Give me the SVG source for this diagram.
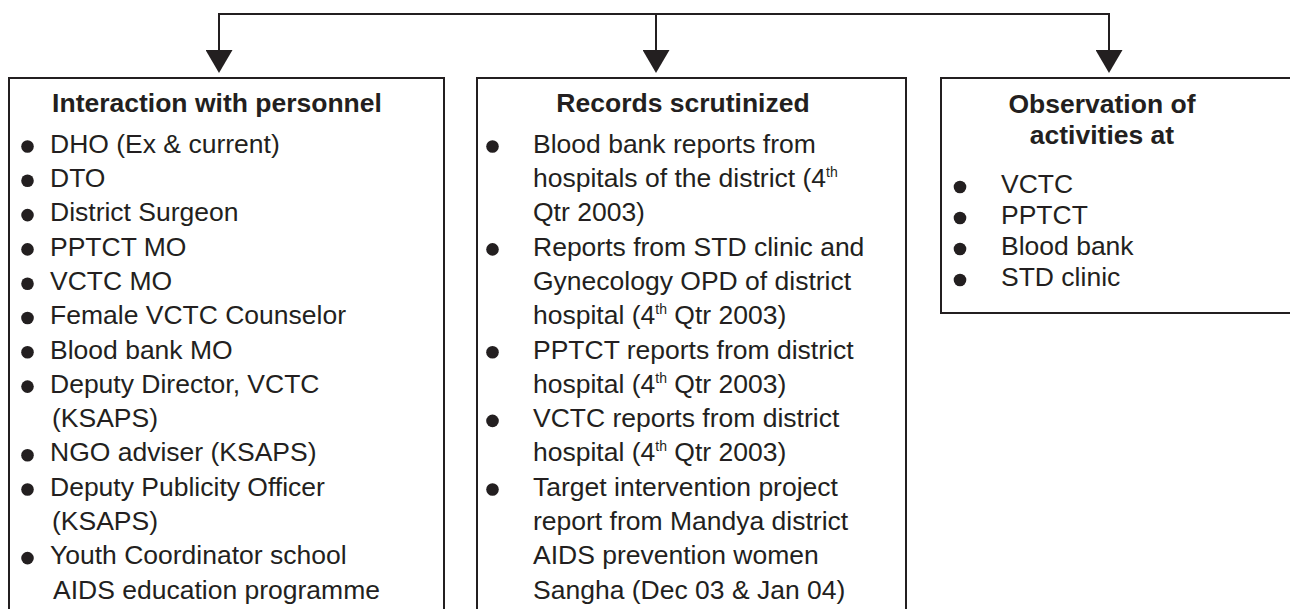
<svg xmlns="http://www.w3.org/2000/svg" width="1290" height="609" viewBox="0 0 1290 609">
<style>
.box{fill:#fff;stroke:#231f20;stroke-width:2}
.conn{fill:none;stroke:#231f20;stroke-width:2}
.t{font-family:"Liberation Sans",Arial,sans-serif;font-size:26.5px;fill:#231f20}
.h{font-family:"Liberation Sans",Arial,sans-serif;font-size:26.5px;font-weight:bold;fill:#231f20;text-anchor:middle}
.sup{font-size:14px}
.b{fill:#231f20}
</style>
<defs>
<marker id="ah" viewBox="0 0 23 27" refX="0" refY="13.5" markerWidth="23" markerHeight="27" markerUnits="userSpaceOnUse" orient="auto">
<path d="M0,0 L23,13.5 L0,27 z" fill="#231f20"/>
</marker>
</defs>
<g id="connectors">
<path class="conn" d="M219,14 H1109"/>
<path class="conn" d="M219,13 V50" marker-end="url(#ah)"/>
<path class="conn" d="M656,14 V50" marker-end="url(#ah)"/>
<path class="conn" d="M1109,13 V50" marker-end="url(#ah)"/>
</g>
<g id="node-personnel">
<rect class="box" x="9" y="78" width="435" height="545"/>
<text class="h" x="217" y="112">Interaction with personnel</text>
<g class="b">
<circle cx="27.5" cy="146.5" r="6.3"/><circle cx="27.5" cy="180.8" r="6.3"/><circle cx="27.5" cy="215.1" r="6.3"/><circle cx="27.5" cy="249.4" r="6.3"/><circle cx="27.5" cy="283.7" r="6.3"/><circle cx="27.5" cy="318" r="6.3"/><circle cx="27.5" cy="352.3" r="6.3"/><circle cx="27.5" cy="386.6" r="6.3"/><circle cx="27.5" cy="455.2" r="6.3"/><circle cx="27.5" cy="489.5" r="6.3"/><circle cx="27.5" cy="558.1" r="6.3"/>
</g>
<text class="t" x="50" y="152.7">DHO (Ex &amp; current)</text>
<text class="t" x="50" y="187">DTO</text>
<text class="t" x="50" y="221.3">District Surgeon</text>
<text class="t" x="50" y="255.6">PPTCT MO</text>
<text class="t" x="50" y="289.9">VCTC MO</text>
<text class="t" x="50" y="324.2">Female VCTC Counselor</text>
<text class="t" x="50" y="358.5">Blood bank MO</text>
<text class="t" x="50" y="392.8">Deputy Director, VCTC</text>
<text class="t" x="52" y="427.1">(KSAPS)</text>
<text class="t" x="50" y="461.4">NGO adviser (KSAPS)</text>
<text class="t" x="50" y="495.7">Deputy Publicity Officer</text>
<text class="t" x="52" y="530">(KSAPS)</text>
<text class="t" x="50" y="564.3">Youth Coordinator school</text>
<text class="t" x="53" y="598.6">AIDS education programme</text>
</g>
<g id="node-records">
<rect class="box" x="477" y="78" width="429" height="545"/>
<text class="h" x="683" y="112">Records scrutinized</text>
<g class="b">
<circle cx="492.5" cy="146.5" r="6.3"/><circle cx="492.5" cy="249.4" r="6.3"/><circle cx="492.5" cy="352.3" r="6.3"/><circle cx="492.5" cy="420.9" r="6.3"/><circle cx="492.5" cy="489.5" r="6.3"/>
</g>
<text class="t" x="533" y="152.7">Blood bank reports from</text>
<text class="t" x="533" y="187">hospitals of the district (4<tspan class="sup" dy="-10">th</tspan></text>
<text class="t" x="533" y="221.3">Qtr 2003)</text>
<text class="t" x="533" y="255.6">Reports from STD clinic and</text>
<text class="t" x="533" y="289.9">Gynecology OPD of district</text>
<text class="t" x="533" y="324.2">hospital (4<tspan class="sup" dy="-10">th</tspan><tspan dy="10"> Qtr 2003)</tspan></text>
<text class="t" x="533" y="358.5">PPTCT reports from district</text>
<text class="t" x="533" y="392.8">hospital (4<tspan class="sup" dy="-10">th</tspan><tspan dy="10"> Qtr 2003)</tspan></text>
<text class="t" x="533" y="427.1">VCTC reports from district</text>
<text class="t" x="533" y="461.4">hospital (4<tspan class="sup" dy="-10">th</tspan><tspan dy="10"> Qtr 2003)</tspan></text>
<text class="t" x="533" y="495.7">Target intervention project</text>
<text class="t" x="533" y="530">report from Mandya district</text>
<text class="t" x="533" y="564.3">AIDS prevention women</text>
<text class="t" x="533" y="598.6">Sangha (Dec 03 &amp; Jan 04)</text>
</g>
<g id="node-observation">
<rect class="box" x="941" y="78" width="360" height="235"/>
<text class="h" x="1102" y="113">Observation of</text>
<text class="h" x="1102" y="144">activities at</text>
<g class="b">
<circle cx="960" cy="187" r="6.3"/><circle cx="960" cy="218" r="6.3"/><circle cx="960" cy="249" r="6.3"/><circle cx="960" cy="280" r="6.3"/>
</g>
<text class="t" x="1001" y="193">VCTC</text>
<text class="t" x="1001" y="224">PPTCT</text>
<text class="t" x="1001" y="255">Blood bank</text>
<text class="t" x="1001" y="286">STD clinic</text>
</g>
</svg>
